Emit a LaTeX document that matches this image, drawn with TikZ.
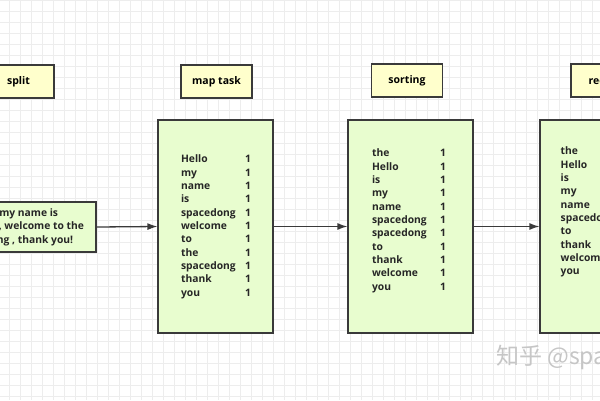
\documentclass[tikz,border=0pt]{standalone}
\usepackage{fontspec}
\setmainfont{Open Sans}
\newfontfamily\cjk{Noto Sans CJK SC}
\usetikzlibrary{arrows.meta}

\definecolor{headfill}{HTML}{FFFFCC}
\definecolor{bodyfill}{HTML}{E8FDCF}
\definecolor{edgegray}{HTML}{3A3A3A}
\definecolor{gridgray}{HTML}{EDEDED}

% word + count line
\newcommand{\kv}[2][64pt]{\makebox[#1][l]{#2}1}

\tikzset{
  head/.style={draw=edgegray, line width=1.2pt, fill=headfill, minimum width=71pt,
    minimum height=33pt, inner sep=0pt, font=\bfseries\fontsize{10.5}{12}\selectfont},
  body/.style={draw=edgegray, line width=1.2pt, fill=bodyfill, inner sep=0pt},
  words/.style={inner sep=0pt, align=left, text=black!85, font=\bfseries\fontsize{10.3}{13.33}\selectfont},
  flow/.style={draw=edgegray, line width=1.3pt, -{Latex[length=10pt,width=7pt]}},
  gridline/.style={draw=gridgray, line width=0.6pt},
}

\begin{document}
\begin{tikzpicture}[x=1pt, y=-1pt]

    \clip (0,0) rectangle (600,400);
    \fill[white] (0,0) rectangle (600,400);

    % Background grid
    \foreach \gx in {9.5,20.5,...,600} \draw[gridline] (\gx,0) -- (\gx,400);
    \foreach \gy in {0.7,11.7,...,400} \draw[gridline] (0,\gy) -- (600,\gy);

    % Headers
    \node[head] (split_head) at (18.5,81.5)  {split}; %
    \node[head] (map_head)   at (216.5,81.5) {map task}; %
    \node[head] (sort_head)  at (407,80.5)   {sorting}; %
    \node[head] (red_head)   at (606.5,80.5) {reduce}; %

    % Boxes
    \node[body, minimum width=164pt, minimum height=50pt]  (split_body) at (14,227)    {}; %
    \node[body, minimum width=115pt, minimum height=213pt] (map_body)   at (215.5,226.5) {}; %
    \node[body, minimum width=125pt, minimum height=213pt] (sort_body)  at (410.5,226.5) {}; %
    \node[body, minimum width=120pt, minimum height=213pt] (red_body)   at (600,226.5)   {}; %

    % Texts
    \node[words, align=center] (split_text) at (14,227)
      {Hello my name is\\spacedong, welcome to the\\spacedong , thank you!}; %
    \node[words] (map_text) at (216,226.7)
      {\kv{Hello}\\\kv{my}\\\kv{name}\\\kv{is}\\\kv{spacedong}\\\kv{welcome}\\
       \kv{to}\\\kv{the}\\\kv{spacedong}\\\kv{thank}\\\kv{you}}; %
    \node[words] (sort_text) at (409,220.7)
      {\kv[68pt]{the}\\\kv[68pt]{Hello}\\\kv[68pt]{is}\\\kv[68pt]{my}\\\kv[68pt]{name}\\
       \kv[68pt]{spacedong}\\\kv[68pt]{spacedong}\\\kv[68pt]{to}\\\kv[68pt]{thank}\\
       \kv[68pt]{welcome}\\\kv[68pt]{you}}; %
    \node[words, anchor=west] (red_text) at (560.5,212)
      {the\\Hello\\is\\my\\name\\spacedong\\to\\thank\\welcome\\you}; %

    % Connect the boxes
    \draw[flow] (split_body.east) -- (map_body.west);
    \draw[flow] (map_body.east) -- (sort_body.west);
    \draw[flow] (sort_body.east) -- (red_body.west);

    % Watermark
    \node[anchor=west, inner sep=0pt, text=gray!45, font=\cjk\fontsize{23}{23}\selectfont]
      (wmark) at (496,358) {知乎 @spacedong}; %

  \end{tikzpicture}
\end{document}
